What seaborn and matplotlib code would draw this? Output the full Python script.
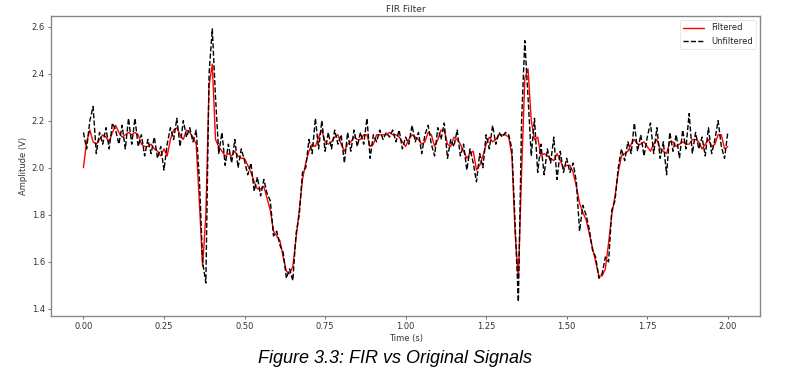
import numpy as np
import pandas as pd
import matplotlib
matplotlib.use("Agg")
import matplotlib.pyplot as plt
import seaborn as sns

# sample times (s), 10 ms step
time_s = np.round(np.arange(0, 201) * 0.01, 2)

# FIR filtered signal
filtered = [
    2.00, 2.11, 2.16, 2.11, 2.10, 2.12, 2.14, 2.13, 2.11, 2.15,
    2.18, 2.15, 2.13, 2.14, 2.15, 2.14, 2.15, 2.14, 2.10, 2.09,
    2.09, 2.10, 2.08, 2.07, 2.05, 2.08, 2.05, 2.12, 2.16, 2.17,
    2.14, 2.12, 2.16, 2.15, 2.13, 2.10, 1.85, 1.58, 1.80, 2.35,
    2.44, 2.12, 2.09, 2.07, 2.05, 2.06, 2.05, 2.07, 2.05, 2.04,
    2.04, 2.01, 1.98, 1.94, 1.91, 1.91, 1.92, 1.87, 1.82, 1.73,
    1.71, 1.69, 1.62, 1.56, 1.55, 1.58, 1.70, 1.82, 1.95, 2.02,
    2.07, 2.10, 2.09, 2.13, 2.16, 2.11, 2.10, 2.11, 2.13, 2.14,
    2.10, 2.07, 2.10, 2.11, 2.13, 2.12, 2.12, 2.14, 2.14, 2.09,
    2.10, 2.14, 2.14, 2.14, 2.14, 2.15, 2.14, 2.14, 2.13, 2.11,
    2.09, 2.12, 2.14, 2.13, 2.12, 2.10, 2.11, 2.15, 2.14, 2.09,
    2.12, 2.16, 2.16, 2.10, 2.09, 2.13, 2.12, 2.10, 2.07, 2.04,
    2.06, 2.07, 1.99, 2.01, 2.05, 2.10, 2.13, 2.11, 2.12, 2.14,
    2.14, 2.14, 2.13, 2.05, 1.72, 1.53, 1.98, 2.38, 2.42, 2.20,
    2.12, 2.13, 2.05, 2.06, 2.05, 2.04, 2.03, 2.06, 2.03, 2.00,
    2.01, 2.01, 1.98, 1.92, 1.85, 1.81, 1.78, 1.72, 1.66, 1.60,
    1.54, 1.54, 1.57, 1.68, 1.80, 1.88, 1.98, 2.05, 2.06, 2.07,
    2.10, 2.12, 2.10, 2.10, 2.11, 2.09, 2.07, 2.10, 2.12, 2.08,
    2.07, 2.06, 2.11, 2.11, 2.09, 2.10, 2.11, 2.10, 2.10, 2.12,
    2.12, 2.11, 2.08, 2.10, 2.12, 2.09, 2.10, 2.14, 2.14, 2.08,
    2.09,
]

# raw (unfiltered) signal
unfiltered = [
    2.15, 2.08, 2.20, 2.26, 2.06, 2.15, 2.10, 2.17, 2.08, 2.19,
    2.16, 2.10, 2.18, 2.08, 2.21, 2.10, 2.21, 2.09, 2.14, 2.05,
    2.12, 2.06, 2.13, 2.04, 2.09, 1.99, 2.10, 2.17, 2.12, 2.21,
    2.09, 2.20, 2.13, 2.17, 2.11, 2.16, 1.95, 1.60, 1.51, 2.40,
    2.59, 2.30, 2.06, 2.15, 2.01, 2.10, 2.02, 2.12, 2.00, 2.08,
    2.03, 1.97, 2.02, 1.90, 1.96, 1.88, 1.95, 1.89, 1.86, 1.71,
    1.73, 1.67, 1.64, 1.53, 1.57, 1.52, 1.72, 1.80, 1.98, 2.00,
    2.12, 2.06, 2.21, 2.08, 2.20, 2.07, 2.15, 2.08, 2.16, 2.10,
    2.14, 2.02, 2.15, 2.07, 2.16, 2.09, 2.15, 2.10, 2.21, 2.04,
    2.14, 2.11, 2.16, 2.12, 2.15, 2.13, 2.16, 2.11, 2.16, 2.08,
    2.13, 2.10, 2.18, 2.11, 2.15, 2.06, 2.14, 2.18, 2.10, 2.05,
    2.17, 2.12, 2.19, 2.04, 2.12, 2.09, 2.16, 2.05, 2.10, 1.99,
    2.08, 2.02, 1.94, 2.06, 2.00, 2.14, 2.08, 2.18, 2.10, 2.15,
    2.13, 2.15, 2.14, 2.08, 1.75, 1.43, 2.20, 2.54, 2.30, 2.05,
    2.21, 1.98, 2.10, 1.97, 2.08, 2.02, 2.13, 1.95, 2.07, 1.98,
    2.04, 1.98, 2.02, 1.94, 1.73, 1.84, 1.80, 1.74, 1.65, 1.62,
    1.53, 1.55, 1.62, 1.60, 1.82, 1.86, 2.00, 2.08, 2.03, 2.11,
    2.06, 2.19, 2.07, 2.14, 2.05, 2.13, 2.19, 2.06, 2.17, 2.04,
    2.11, 1.97, 2.15, 2.07, 2.14, 2.04, 2.16, 2.08, 2.23, 2.06,
    2.15, 2.08, 2.13, 2.05, 2.17, 2.06, 2.12, 2.20, 2.09, 2.04,
    2.15,
]

df = pd.DataFrame({'time': time_s, 'filtered': filtered, 'unfiltered': unfiltered})

sns.set_theme(style="ticks")
plt.rcParams['font.family'] = ['DejaVu Sans']

fig = plt.figure(figsize=(8, 3.9), dpi=100)
ax = fig.add_axes([0.064, 0.19, 0.886, 0.769])

sns.lineplot(data=df, x='time', y='filtered', ax=ax, color='red', linewidth=1.0, label='Filtered')
sns.lineplot(data=df, x='time', y='unfiltered', ax=ax, color='black', linewidth=1.0,
             linestyle='--', label='Unfiltered')

ax.set_xlim(-0.1, 2.1)
ax.set_ylim(1.37, 2.645)
ax.set_xticks([0.0, 0.25, 0.5, 0.75, 1.0, 1.25, 1.5, 1.75, 2.0])
ax.set_yticks([1.4, 1.6, 1.8, 2.0, 2.2, 2.4, 2.6])
ax.set_title('FIR Filter', fontsize=6.5, pad=3, color='#333333')
ax.set_xlabel('Time (s)', fontsize=6, labelpad=2, color='#333333')
ax.set_ylabel('Amplitude (V)', fontsize=6, labelpad=3, color='#333333')
ax.tick_params(labelsize=6, length=2.5, width=0.6, color='#555555', labelcolor='#333333', pad=2)
for side in ['top', 'right', 'bottom', 'left']:
    ax.spines[side].set_color('#888888')
    ax.spines[side].set_linewidth(1.0)

leg = ax.legend(loc='upper right', fontsize=6, frameon=True, handlelength=2.5)
leg.get_frame().set_edgecolor('#dddddd')
leg.get_frame().set_linewidth(0.6)

fig.text(0.494, 0.082, 'Figure 3.3: FIR vs Original Signals', fontsize=13, style='italic',
         color='black', family=['Liberation Sans', 'DejaVu Sans'], ha='center', va='center')

fig.savefig('out.png', dpi=100)
